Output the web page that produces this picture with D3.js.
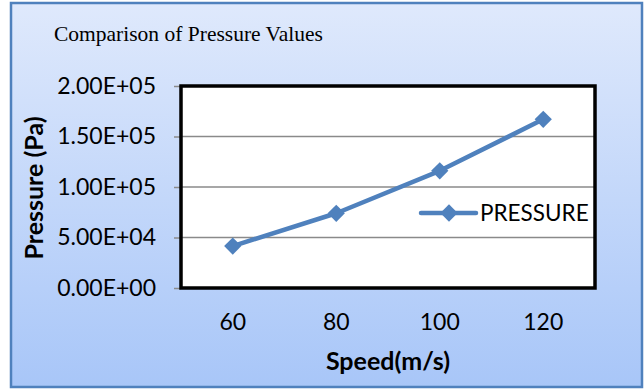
<!DOCTYPE html>
<html>
<head>
<meta charset="utf-8">
<script src="https://cdn.jsdelivr.net/npm/d3@7"></script>
<style>
  body { margin: 0; background: #fff; }
  svg { display: block; }
</style>
</head>
<body>
<div id="chart"></div>
<script>
// data
const speeds = ['60', '80', '100', '120'];
const pressure = [41500, 74000, 116000, 167000];
const yTicks = [0, 50000, 100000, 150000, 200000];
const seriesName = 'PRESSURE';

const width = 644, height = 390;
const plot = { left: 181, top: 86, right: 595, bottom: 288 };
const blue = '#4f81bd';
const sans = 'Lato, sans-serif';

const svg = d3.select('#chart').append('svg')
  .attr('width', width)
  .attr('height', height);

// background gradient
const grad = svg.append('defs').append('linearGradient')
  .attr('id', 'bg').attr('x1', 0).attr('y1', 0).attr('x2', 0).attr('y2', 1);
grad.append('stop').attr('offset', '0%').attr('stop-color', '#dfe9fc');
grad.append('stop').attr('offset', '100%').attr('stop-color', '#a8c6f8');

svg.append('rect')
  .attr('x', 11).attr('y', 3)
  .attr('width', 631).attr('height', 384)
  .attr('fill', 'url(#bg)')
  .attr('stroke', blue)
  .attr('stroke-width', 2.5);

// title
svg.append('text')
  .attr('x', 54).attr('y', 41)
  .attr('font-family', '"Liberation Serif", serif')
  .attr('font-size', 21.5)
  .attr('fill', '#000')
  .text('Comparison of Pressure Values');

// scales
const x = d3.scaleBand()
  .domain(speeds)
  .range([plot.left, plot.right]);

const y = d3.scaleLinear()
  .domain([0, 200000])
  .range([plot.bottom, plot.top]);

// plot area
svg.append('rect')
  .attr('x', plot.left).attr('y', plot.top)
  .attr('width', plot.right - plot.left)
  .attr('height', plot.bottom - plot.top)
  .attr('fill', '#fff');

// gridlines
svg.append('g')
  .selectAll('line')
  .data(yTicks.slice(1, -1))
  .enter()
  .append('line')
  .attr('x1', plot.left).attr('x2', plot.right)
  .attr('y1', d => y(d)).attr('y2', d => y(d))
  .attr('stroke', '#8a8a8a')
  .attr('stroke-width', 1.5);

// y axis
const yAxis = svg.append('g')
  .attr('transform', 'translate(' + plot.left + ',0)')
  .call(d3.axisLeft(y).tickValues(yTicks).tickSize(7).tickPadding(18)
    .tickFormat(d => d.toExponential(2).replace('e', 'E').replace(/E([+-])(\d)$/, 'E$10$2')));
yAxis.select('.domain').remove();
yAxis.selectAll('.tick line').attr('stroke', '#8a8a8a').attr('stroke-width', 1.5);
yAxis.selectAll('text')
  .attr('font-family', sans)
  .attr('font-size', 23)
  .attr('fill', '#000');

// x axis
const xAxis = svg.append('g')
  .attr('transform', 'translate(0,' + plot.bottom + ')')
  .call(d3.axisBottom(x).tickSize(0).tickPadding(26));
xAxis.select('.domain').remove();
xAxis.selectAll('text')
  .attr('font-family', sans)
  .attr('font-size', 23)
  .attr('fill', '#000');

// frame
svg.append('rect')
  .attr('x', plot.left).attr('y', plot.top)
  .attr('width', plot.right - plot.left)
  .attr('height', plot.bottom - plot.top)
  .attr('fill', 'none')
  .attr('stroke', '#000')
  .attr('stroke-width', 3.5);

// axis titles
svg.append('text')
  .attr('transform', 'translate(43,188) rotate(-90)')
  .attr('text-anchor', 'middle')
  .attr('font-family', sans)
  .attr('font-weight', 'bold')
  .attr('font-size', 25)
  .text('Pressure (Pa)');

svg.append('text')
  .attr('x', 388).attr('y', 370)
  .attr('text-anchor', 'middle')
  .attr('font-family', sans)
  .attr('font-weight', 'bold')
  .attr('font-size', 25)
  .text('Speed(m/s)');

// series
const data = speeds.map((s, i) => ({ speed: s, value: pressure[i] }));
const cx = d => x(d.speed) + x.bandwidth() / 2;

svg.append('path')
  .datum(data)
  .attr('fill', 'none')
  .attr('stroke', blue)
  .attr('stroke-width', 4.5)
  .attr('stroke-linejoin', 'round')
  .attr('d', d3.line().x(cx).y(d => y(d.value)));

const diamond = d3.symbol().type(d3.symbolDiamond2).size(190);

svg.append('g')
  .selectAll('path')
  .data(data)
  .enter()
  .append('path')
  .attr('transform', d => 'translate(' + cx(d) + ',' + y(d.value) + ')')
  .attr('d', diamond)
  .attr('fill', blue);

// legend
const legend = svg.append('g').attr('transform', 'translate(421,213)');
legend.append('line')
  .attr('x1', 0).attr('x2', 55)
  .attr('stroke', blue)
  .attr('stroke-width', 4.5)
  .attr('stroke-linecap', 'round');
legend.append('path')
  .attr('transform', 'translate(28,0)')
  .attr('d', diamond)
  .attr('fill', blue);
legend.append('text')
  .attr('x', 59).attr('y', 8)
  .attr('font-family', sans)
  .attr('font-size', 22.5)
  .attr('fill', '#000')
  .text(seriesName);
</script>
</body>
</html>
